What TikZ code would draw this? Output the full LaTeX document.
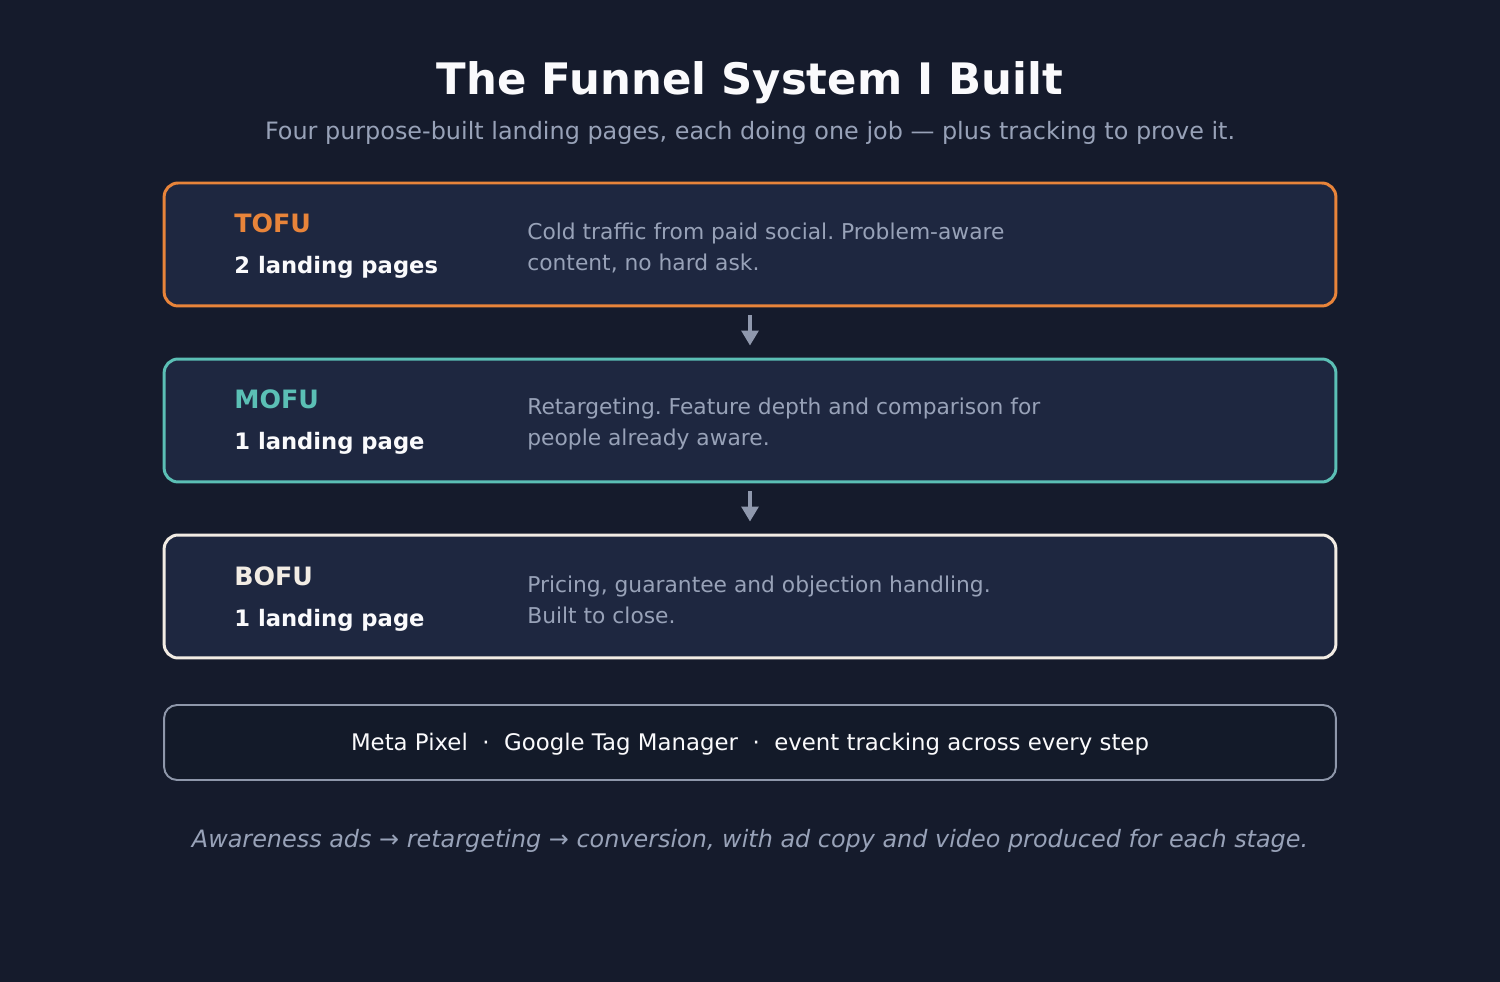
\documentclass[tikz,border=0pt]{standalone}
\usepackage{fontspec}
\setmainfont{DejaVu Sans}
\usepackage{xcolor}
\usepackage{tikz}
\usetikzlibrary{arrows.meta}
\definecolor{FunBg}{HTML}{151B2C}
\definecolor{FunCard}{HTML}{1E2740}
\definecolor{FunOrange}{HTML}{E8843A}
\definecolor{FunTeal}{HTML}{5BBFB5}
\definecolor{FunCream}{HTML}{F2ECE4}
\definecolor{FunInk}{HTML}{FAFAFC}
\definecolor{FunMuted}{HTML}{98A2B8}
\definecolor{FunTrackFill}{HTML}{131A29}
\definecolor{FunTrackLine}{HTML}{8E97AA}
\definecolor{FunArrow}{HTML}{8F98AD}
\frenchspacing

\begin{document}
\begin{tikzpicture}[
  x=0.02cm, y=-0.02cm,
  stagebox/.style={draw=#1, fill=FunCard, line width=1.7pt, rounded corners=0.28cm, minimum width=23.44cm, minimum height=2.46cm},
  stagename/.style={anchor=base west, inner sep=0pt, font=\fontsize{14.4}{17}\selectfont\bfseries},
  pagecount/.style={anchor=base west, inner sep=0pt, text=FunInk, font=\fontsize{12.9}{15}\selectfont\bfseries},
  desc/.style={anchor=west, inner sep=0pt, align=left, text=FunMuted, font=\fontsize{12.4}{17.6}\selectfont},
  flow/.style={-{Triangle[length=0.3cm, width=0.34cm]}, draw=FunArrow, fill=FunArrow, line width=1.8pt, shorten <=0.16cm, shorten >=0.24cm}
]
\fill[FunBg] (0,0) rectangle (1500,982);
\node[anchor=base, inner sep=0pt, text=FunInk, font=\fontsize{24.7}{28}\selectfont\bfseries] (title) at (750,95) {The Funnel System I Built};
\node[anchor=base, inner sep=0pt, text=FunMuted, font=\fontsize{13.6}{16}\selectfont] (subtitle) at (750,140) {Four purpose-built landing pages, each doing one job — plus tracking to prove it.};
\foreach \i/\stage/\pages/\txt/\col in {
  0/TOFU/{2 landing pages}/{Cold traffic from paid social. Problem-aware\\content, no hard ask.}/FunOrange,
  1/MOFU/{1 landing page}/{Retargeting. Feature depth and comparison for\\people already aware.}/FunTeal,
  2/BOFU/{1 landing page}/{Pricing, guarantee and objection handling.\\Built to close.}/FunCream}{
  \node[stagebox=\col] (s\i) at (750, 244.5+\i*176) {};
  \node[stagename, text=\col] (n\i) at (234, 233+\i*176) {\stage};
  \node[pagecount] (p\i) at (234, 274+\i*176) {\pages};
  \node[desc] (d\i) at (527, 248+\i*176) {\txt};
}
\draw[flow] (s0.south) -- (s1.north);
\draw[flow] (s1.south) -- (s2.north);
\node[draw=FunTrackLine, fill=FunTrackFill, line width=1.1pt, rounded corners=0.26cm, minimum width=23.44cm, minimum height=1.5cm] (track) at (750,742.5) {};
\node[anchor=base, inner sep=0pt, text=FunInk, font=\fontsize{13}{15}\selectfont] (tracktext) at (750,750) {Meta Pixel \ · \ Google Tag Manager \ · \ event tracking across every step};
\node[anchor=base, inner sep=0pt, text=FunMuted, font=\fontsize{13.6}{16}\selectfont\itshape] (footer) at (750,847) {Awareness ads → retargeting → conversion, with ad copy and video produced for each stage.};
\end{tikzpicture}
\end{document}
